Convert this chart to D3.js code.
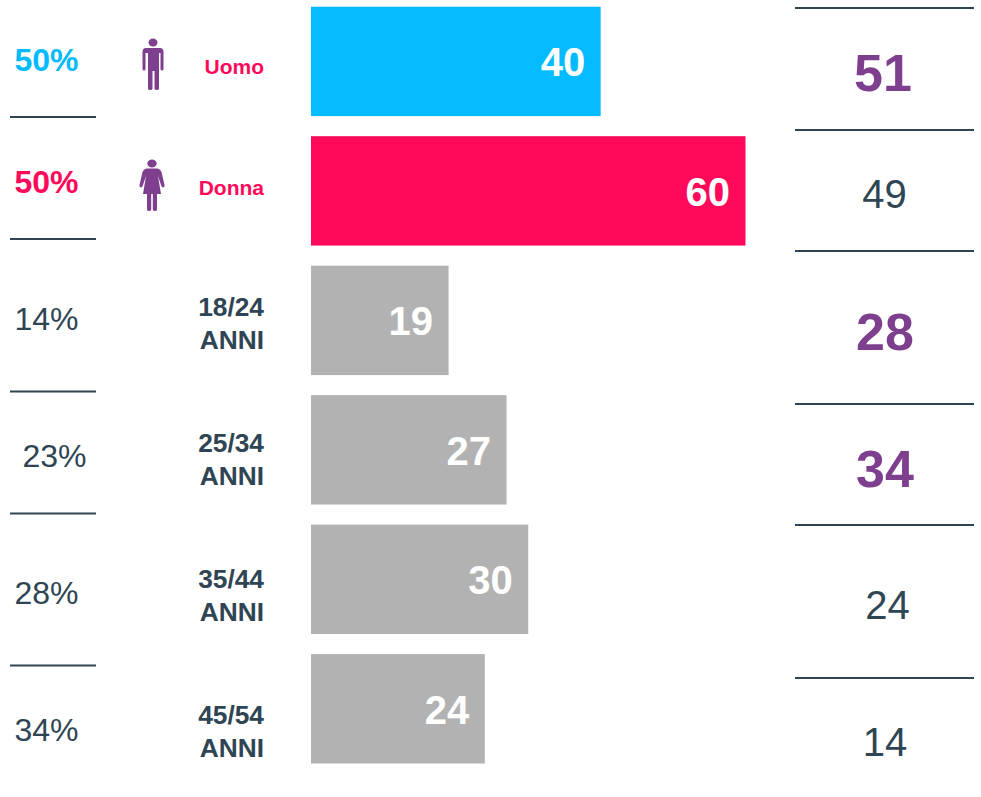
<!DOCTYPE html>
<html>
<head>
<meta charset="utf-8">
<script src="https://cdn.jsdelivr.net/npm/d3@7"></script>
<style>
  html, body { margin: 0; padding: 0; background: #fff; }
  text { font-family: "Liberation Sans", Arial, sans-serif; }
</style>
</head>
<body>
<div id="my-chart"></div>
<script>
// data
const categories = ["Uomo", "Donna", "18/24", "25/34", "35/44", "45/54"];
const barValues = [40, 60, 19, 27, 30, 24];
const leftPercent = ["50%", "50%", "14%", "23%", "28%", "34%"];
const rightValues = [51, 49, 28, 34, 24, 14];
const rightHighlighted = [true, false, true, true, false, false];

// layout
const width = 981, height = 797;
const leftX = [14.5, 14.5, 14.5, 22.5, 14.5, 14.5];
const leftBaseline = [70.5, 192.5, 330, 467, 604, 741];
const rightX = [883, 884.5, 885, 885, 887.5, 885];
const rightBaseline = [91, 208, 349.5, 486.5, 619, 756];
const leftRules = [117, 239, 391.5, 513.5, 665.5];
const rightRules = [8, 130, 251, 404, 525, 678];

const blue = "#05bbff", pink = "#ff0a5a", grey = "#b2b2b2";
const purple = "#7f3f8f", slate = "#2f4553";

const svg = d3.select("#my-chart").append("svg")
    .attr("width", width)
    .attr("height", height)
    .attr("viewBox", [0, 0, width, height])
    .style("display", "block");

const x = d3.scaleLinear().domain([0, 60]).range([311, 745.5]);
const y = d3.scaleBand().domain(categories).range([6.7, 763.5]).paddingInner(0.155);
const barColor = d3.scaleOrdinal().domain(categories)
    .range([blue, pink, grey, grey, grey, grey]);

// bars
svg.append("g").selectAll("rect")
  .data(categories)
  .join("rect")
    .attr("x", x(0))
    .attr("y", d => y(d))
    .attr("width", (d, i) => x(barValues[i]) - x(0))
    .attr("height", y.bandwidth())
    .attr("fill", d => barColor(d));

// values inside the bars
svg.append("g").selectAll("text")
  .data(categories)
  .join("text")
    .attr("x", (d, i) => x(barValues[i]) - 15.5)
    .attr("y", d => y(d) + y.bandwidth() / 2 + 15)
    .attr("text-anchor", "end")
    .attr("font-size", 40)
    .attr("font-weight", "bold")
    .attr("fill", "#fff")
    .text((d, i) => barValues[i]);

// left column
svg.append("g").selectAll("text")
  .data(leftPercent)
  .join("text")
    .attr("x", (d, i) => leftX[i])
    .attr("y", (d, i) => leftBaseline[i])
    .attr("font-size", 32)
    .attr("font-weight", (d, i) => i < 2 ? "bold" : "normal")
    .attr("fill", (d, i) => i == 0 ? blue : i == 1 ? pink : slate)
    .text(d => d);

svg.append("g").selectAll("line")
  .data(leftRules)
  .join("line")
    .attr("x1", 10).attr("x2", 96)
    .attr("y1", d => d).attr("y2", d => d)
    .attr("stroke", slate)
    .attr("stroke-width", 2);

// right column
svg.append("g").selectAll("line")
  .data(rightRules)
  .join("line")
    .attr("x1", 795).attr("x2", 974)
    .attr("y1", d => d).attr("y2", d => d)
    .attr("stroke", slate)
    .attr("stroke-width", 2);

svg.append("g").selectAll("text")
  .data(rightValues)
  .join("text")
    .attr("x", (d, i) => rightX[i])
    .attr("y", (d, i) => rightBaseline[i])
    .attr("text-anchor", "middle")
    .attr("font-size", (d, i) => rightHighlighted[i] ? 52 : 40)
    .attr("font-weight", (d, i) => rightHighlighted[i] ? "bold" : "normal")
    .attr("fill", (d, i) => rightHighlighted[i] ? purple : slate)
    .text(d => d);

// row labels
const labels = svg.append("g")
    .attr("text-anchor", "end")
    .attr("font-weight", "bold");

labels.append("text").attr("x", 264).attr("y", 74)
    .attr("font-size", 21).attr("fill", pink).text(categories[0]);
labels.append("text").attr("x", 264).attr("y", 195)
    .attr("font-size", 21).attr("fill", pink).text(categories[1]);

const ageBaseline = [316, 452, 588, 724];
categories.slice(2).forEach((c, i) => {
  labels.append("text").attr("x", 264).attr("y", ageBaseline[i])
      .attr("font-size", 26.3).attr("fill", slate).text(c);
  labels.append("text").attr("x", 264).attr("y", ageBaseline[i] + 32.5)
      .attr("font-size", 26.3).attr("fill", slate).text("ANNI");
});

// man icon
const man = svg.append("g").attr("transform", "translate(153,0)").attr("fill", purple);
man.append("ellipse").attr("cx", 0).attr("cy", 42.5).attr("rx", 4.5).attr("ry", 4);
man.append("path").attr("d",
  "M-7,48 H7 Q10.5,48 10.5,52 V69 Q10.5,70.5 9,70.5 Q7.5,70.5 7.5,69 V53 H6 V88.5 Q6,90 4,90 Q1.5,90 1.5,88.5 V71 H-0.5 V88.5 Q-0.5,90 -3,90 Q-5,90 -5,88.5 V53 H-7.5 V69 Q-7.5,70.5 -9,70.5 Q-10.5,70.5 -10.5,69 V52 Q-10.5,48 -7,48 Z");

// woman icon
const woman = svg.append("g").attr("transform", "translate(152,0)").attr("fill", purple);
woman.append("ellipse").attr("cx", 0).attr("cy", 163.5).attr("rx", 4.7).attr("ry", 4);
woman.append("path").attr("d",
  "M-5,168.5 H5 Q8,168.5 9.5,172 L12.5,185 Q12.8,187.5 11,187.5 Q9.8,187.5 9.2,185.5 L6,176 L9,194 H-9 L-6,176 L-9.2,185.5 Q-9.8,187.5 -11,187.5 Q-12.8,187.5 -12.5,185 L-9.5,172 Q-8,168.5 -5,168.5 Z");
woman.append("path").attr("d",
  "M-5,194 H-0.8 V209.5 Q-0.8,211 -3,211 Q-5,211 -5,209.5 Z M0.8,194 H5 V209.5 Q5,211 3,211 Q0.8,211 0.8,209.5 Z");
</script>
</body>
</html>
